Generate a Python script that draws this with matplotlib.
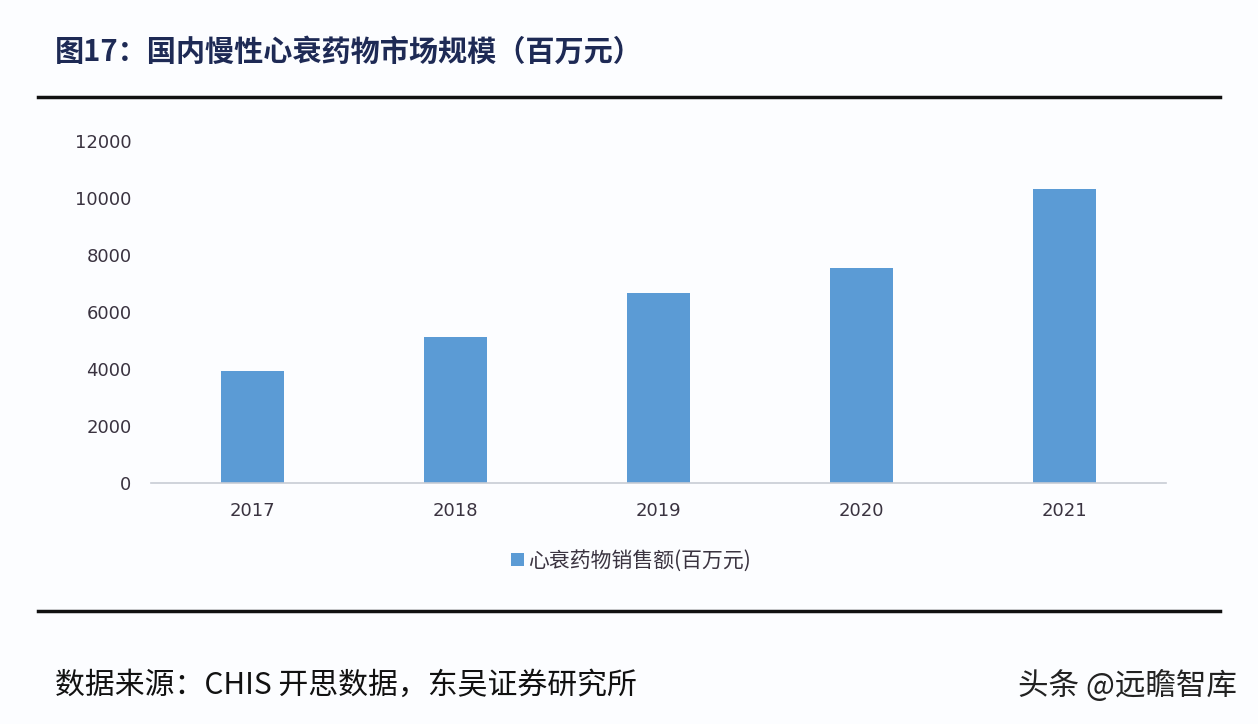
import matplotlib.pyplot as plt

plt.rcParams['font.family'] = ['Noto Sans CJK SC', 'DejaVu Sans']

years = ["2017", "2018", "2019", "2020", "2021"]
sales = [3930, 5110, 6680, 7560, 10330]
y_ticks = [0, 2000, 4000, 6000, 8000, 10000, 12000]

title = "图17：国内慢性心衰药物市场规模（百万元）"
series_name = "心衰药物销售额(百万元)"
source = "数据来源：CHIS 开思数据，东吴证券研究所"
watermark = "头条 @远瞻智库"

W, H = 1258, 724
fig = plt.figure(figsize=(W / 100, H / 100), dpi=100, facecolor="#fcfdff")

# axes box in pixels: x 151..1166, y 141.5..482.5
ax = fig.add_axes([151 / W, 1 - 482.5 / H, (1166 - 151) / W, (482.5 - 141.5) / H])
ax.set_facecolor("#fcfdff")
ax.bar(years, sales, width=0.31, color="#5b9bd5", label=series_name)
ax.set_xlim(-0.5, len(years) - 0.5)
ax.set_ylim(0, 12000)
ax.set_yticks(y_ticks)
ax.tick_params(axis="both", length=0, labelsize=13, colors="#3a3340")
ax.tick_params(axis="y", pad=14)
ax.tick_params(axis="x", pad=14)
for lbl in ax.get_xticklabels() + ax.get_yticklabels():
    lbl.set_family("DejaVu Sans")
for s in ["top", "right", "left"]:
    ax.spines[s].set_visible(False)
ax.spines["bottom"].set_color("#c8ccd4")
ax.spines["bottom"].set_linewidth(1.2)

# legend centred at pixel (631, 561)
ax.legend(loc="center", bbox_to_anchor=((631 - 151) / 1015, (482.5 - 561) / 341),
          frameon=False, fontsize=15, handlelength=0.6, handleheight=0.6,
          handletextpad=0.2, labelcolor="#3a3340")

# title and rules
fig.text(55 / W, 1 - 52 / H, title, fontsize=21, fontweight="bold",
         color="#1e2a55", va="center", ha="left")
fig.add_artist(plt.Line2D([38 / W, 1220 / W], [1 - 97 / H] * 2, color="#111111", lw=2.5))
fig.add_artist(plt.Line2D([38 / W, 1220 / W], [1 - 611 / H] * 2, color="#111111", lw=2.5))

fig.text(55 / W, 1 - 685 / H, source, fontsize=21.5, color="#111111",
         va="center", ha="left")
fig.text(1237 / W, 1 - 686 / H, watermark, fontsize=22, color="#222222",
         va="center", ha="right")

fig.savefig("out.png", dpi=100, facecolor=fig.get_facecolor())
